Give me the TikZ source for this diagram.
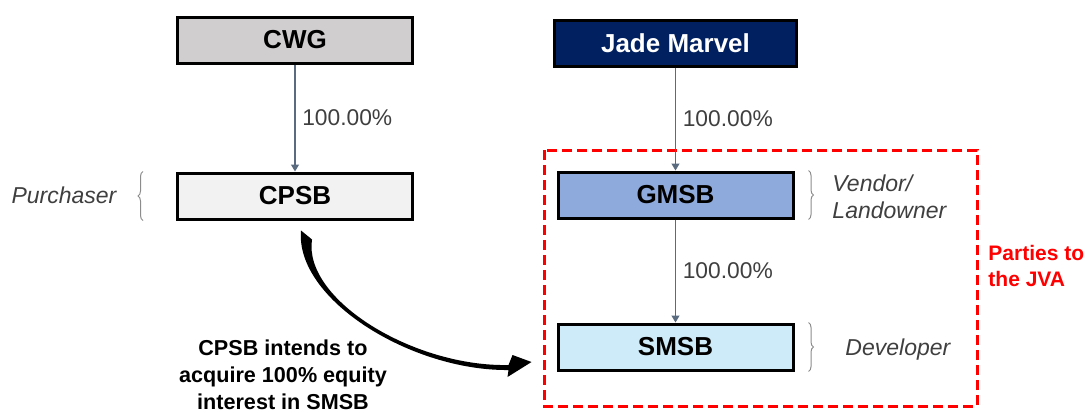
\documentclass[tikz,border=0pt]{standalone}
\usepackage{fontspec}
\setmainfont{Liberation Sans}
\usetikzlibrary{positioning,arrows.meta,calc,decorations.pathreplacing}
\definecolor{navyblue}{HTML}{002060}
\definecolor{greyfill}{HTML}{D0CECE}
\definecolor{lightfill}{HTML}{F2F2F2}
\definecolor{midblue}{HTML}{8EA9DB}
\definecolor{paleblue}{HTML}{CDEBF9}
\definecolor{linkgray}{HTML}{5B6B7F}
\definecolor{labelgray}{HTML}{3F3F3F}
\definecolor{bracegray}{HTML}{8C8C8C}
\definecolor{jvared}{HTML}{FF0000}
\tikzset{every picture/.style={line width=0.8pt}}

\begin{document}
\begin{tikzpicture}[x=0.5pt, y=-0.5pt, node distance=52pt,
    entity/.style={draw=black, line width=1.5pt, rectangle, minimum width=117.5pt, minimum height=23pt, font=\fontsize{13}{15}\selectfont\bfseries},
    own/.style={draw=linkgray, line width=0.6pt, -{Triangle[width=4pt,length=3.5pt]}},
    pct/.style={text=labelgray, font=\fontsize{11.4}{13}\selectfont},
    role/.style={text=labelgray, font=\fontsize{11.5}{13.5}\selectfont\itshape, align=left},
    rolebrace/.style={draw=bracegray, line width=0.5pt, decorate, decoration={brace, amplitude=2.5pt}}]
    \useasboundingbox (0,0) rectangle (1085,412);

    % Shareholding chain
    \node[entity, fill=greyfill] (cwg) at (295,40) {CWG};
    \node[entity, fill=lightfill, below=53.5pt of cwg] (cpsb) {CPSB};
    \node[entity, fill=navyblue, text=white, minimum width=121pt] (jade) at (675.5,43) {Jade Marvel};
    \node[entity, fill=midblue, below=51.5pt of jade] (gmsb) {GMSB};
    \node[entity, fill=paleblue, below=51.5pt of gmsb] (smsb) {SMSB};

    % Parties to the JVA
    \draw[jvared, line width=1.5pt, dash pattern=on 5pt off 2.5pt] (544,150) rectangle (977,406);
    \node[anchor=west, text=jvared, align=left, font=\fontsize{10.5}{13}\selectfont\bfseries] (jva) at (981,266) {Parties to\\the JVA};

    % Connections
    \draw[own] (cwg) -- node[pct, right=0pt] {100.00\%} (cpsb);
    \draw[own] (jade) -- node[pct, right=0pt] {100.00\%} (gmsb);
    \draw[own] (gmsb) -- node[pct, right=0pt] {100.00\%} (smsb);

    % Roles
    \draw[rolebrace] ($(cpsb.south west)+(-33,0)$) -- ($(cpsb.north west)+(-33,0)$);
    \draw[rolebrace] ($(gmsb.north east)+(14,0)$) -- ($(gmsb.south east)+(14,0)$);
    \draw[rolebrace] ($(smsb.north east)+(14,0)$) -- ($(smsb.south east)+(14,0)$);
    \node[role] (purchaser) at (64,195) {Purchaser};
    \node[role, anchor=west] (vendor) at (825,197) {Vendor/\\Landowner};
    \node[role, anchor=west] (developer) at (838,350) {Developer};

    % Acquisition
    \coordinate (arrS) at ($(cpsb.south)+(6,10)$);
    \coordinate (arrE) at ($(smsb.west)+(-25,15)$);
    \fill[black] (arrS) .. controls +(-6,69) and +(-97,1) .. ($(arrE)+(-23,8)$)
        -- ($(arrE)+(-24,15)$) -- (arrE) -- ($(arrE)+(-19,-7)$) -- ($(arrE)+(-23,3)$)
        .. controls +(-95,2) and +(-9,60) .. ($(arrS)+(11,9)$) -- cycle;
    \node[align=center, inner sep=1pt, font=\fontsize{10.8}{13.5}\selectfont\bfseries] (acquire) at (283,375) {CPSB intends to\\acquire 100\% equity\\interest in SMSB};
\end{tikzpicture}
\end{document}
